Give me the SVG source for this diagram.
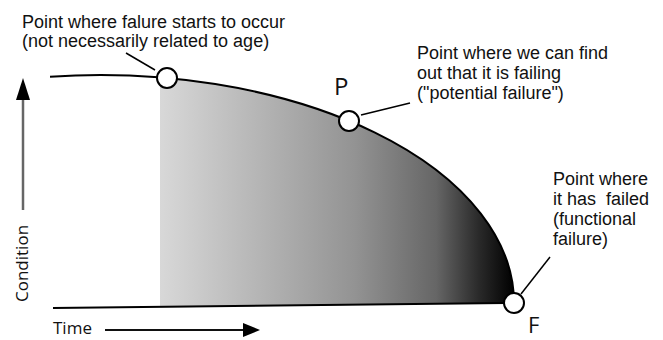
<svg xmlns="http://www.w3.org/2000/svg" width="663" height="340" viewBox="0 0 663 340">
<style>
.lbl{font-family:"Liberation Sans",Arial,sans-serif;font-size:18px;fill:#111}
.ax{font-family:"Open Sans","DejaVu Sans",sans-serif;font-size:17px;fill:#111}
.big{font-family:"Open Sans","DejaVu Sans",sans-serif;font-size:24px;fill:#111}
.pt{fill:#fff;stroke:#000;stroke-width:2}
.lead{stroke:#000;stroke-width:1.5;fill:none}
</style>
<defs>
<linearGradient id="shade" gradientUnits="userSpaceOnUse" x1="160" y1="0" x2="514" y2="0">
<stop offset="0" stop-color="#d8d8d8"/>
<stop offset="0.55" stop-color="#939393"/>
<stop offset="0.78" stop-color="#666"/>
<stop offset="0.9" stop-color="#2a2a2a"/>
<stop offset="1" stop-color="#000"/>
</linearGradient>
</defs>
<rect width="663" height="340" fill="#fff"/>
<g id="area">
<path d="M160,77.4 A414,228 0 0 1 514,303 L160,307.5 Z" fill="url(#shade)"/>
</g>
<g id="connectors">
<path d="M50,76.7 A414,228 0 0 1 514,303" fill="none" stroke="#000" stroke-width="2"/>
<line x1="53" y1="308" x2="506" y2="303" stroke="#000" stroke-width="2"/>
<line x1="23" y1="100" x2="23" y2="210" stroke="#666" stroke-width="2.5"/>
<polygon points="23,78 16,100 30,100" fill="#000"/>
<line x1="105" y1="330" x2="244" y2="330" stroke="#111" stroke-width="2"/>
<polygon points="243,323 260,330 243,337" fill="#000"/>
<line class="lead" x1="155" y1="70" x2="126" y2="53"/>
<line class="lead" x1="361" y1="115" x2="410" y2="103"/>
<line class="lead" x1="521" y1="294" x2="550" y2="257"/>
</g>
<g id="start">
<circle class="pt" cx="167" cy="78" r="10"/>
<text class="lbl" x="22" y="28">Point where falure starts to occur</text>
<text class="lbl" x="22" y="47">(not necessarily related to age)</text>
</g>
<g id="P">
<circle class="pt" cx="349" cy="121" r="10"/>
<text class="big" x="334" y="95">P</text>
<text class="lbl" x="417" y="59">Point where we can find</text>
<text class="lbl" x="417" y="79">out that it is failing</text>
<text class="lbl" x="417" y="99">("potential failure")</text>
</g>
<g id="F">
<circle class="pt" cx="514" cy="303" r="10"/>
<text class="big" x="528" y="333" style="font-size:22px">F</text>
<text class="lbl" x="553" y="185">Point where</text>
<text class="lbl" x="553" y="205" style="white-space:pre">it has  failed</text>
<text class="lbl" x="553" y="225">(functional</text>
<text class="lbl" x="553" y="245">failure)</text>
</g>
<g id="axes">
<text class="ax" transform="translate(28,302) rotate(-90)">Condition</text>
<text class="ax" x="53" y="334">Time</text>
</g>
</svg>
